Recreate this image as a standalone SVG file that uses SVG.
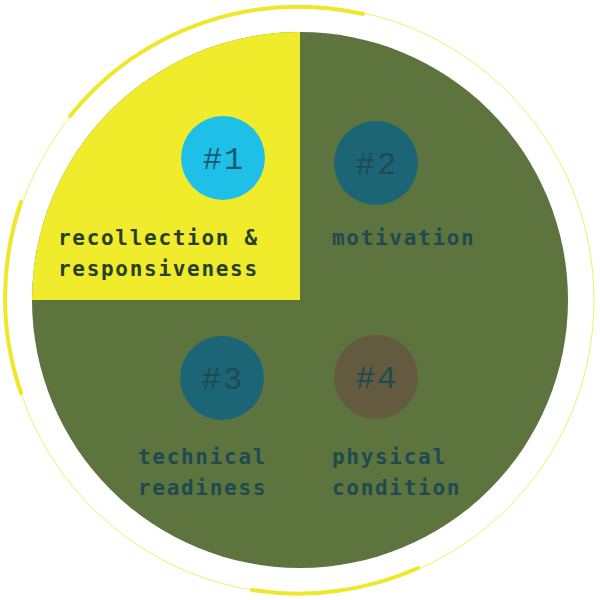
<svg xmlns="http://www.w3.org/2000/svg" width="600" height="600" viewBox="0 0 600 600">
<defs>
<style>
.lbl{font-family:"DejaVu Sans Mono","Liberation Mono",monospace;font-weight:bold;font-size:21px;letter-spacing:1.7px}
.num{font-family:"Liberation Mono",monospace;font-size:32px;text-anchor:middle;letter-spacing:2px}
.thick{fill:none;stroke:#efe82a;stroke-width:4;stroke-linecap:round}
</style>
<clipPath id="c"><circle cx="300" cy="300" r="268"/></clipPath>
</defs>
<rect width="600" height="600" fill="#fff"/>
<circle cx="300" cy="300" r="294" fill="none" stroke="#f3ee6a" stroke-width="1"/>
<g id="ring">
<path class="thick" d="M70 116 A294 294 0 0 1 363 14"/>
<path class="thick" d="M21 202 A294 294 0 0 0 21 393"/>
<path class="thick" d="M418 568 A294 294 0 0 1 252 590"/>
</g>
<circle cx="300" cy="300" r="268" fill="#5e743e"/>
<rect x="30" y="30" width="270" height="270" fill="#f1ec2b" clip-path="url(#c)"/>
<g id="n1"><circle cx="223" cy="158" r="42" fill="#1ec0e8"/><text class="num" x="224" y="169" fill="#1a5a6b">#1</text>
<text class="lbl" fill="#27402a"><tspan x="58" y="245">recollection &amp;</tspan><tspan x="58" y="276">responsiveness</tspan></text></g>
<g id="n2"><circle cx="376" cy="163" r="42" fill="#1b6577"/><text class="num" x="377" y="174" fill="#1f4a50">#2</text>
<text class="lbl" fill="#1f4a50" x="332" y="245">motivation</text></g>
<g id="n3"><circle cx="222" cy="378" r="42" fill="#1b6577"/><text class="num" x="223" y="389" fill="#1f4a50">#3</text>
<text class="lbl" fill="#1f4a50"><tspan x="138" y="464">technical</tspan><tspan x="138" y="495">readiness</tspan></text></g>
<g id="n4"><circle cx="376" cy="377" r="42" fill="#635a40"/><text class="num" x="377" y="388" fill="#1f4a50">#4</text>
<text class="lbl" fill="#1f4a50"><tspan x="332" y="464">physical</tspan><tspan x="332" y="495">condition</tspan></text></g>
<g id="connectors"/>
</svg>
